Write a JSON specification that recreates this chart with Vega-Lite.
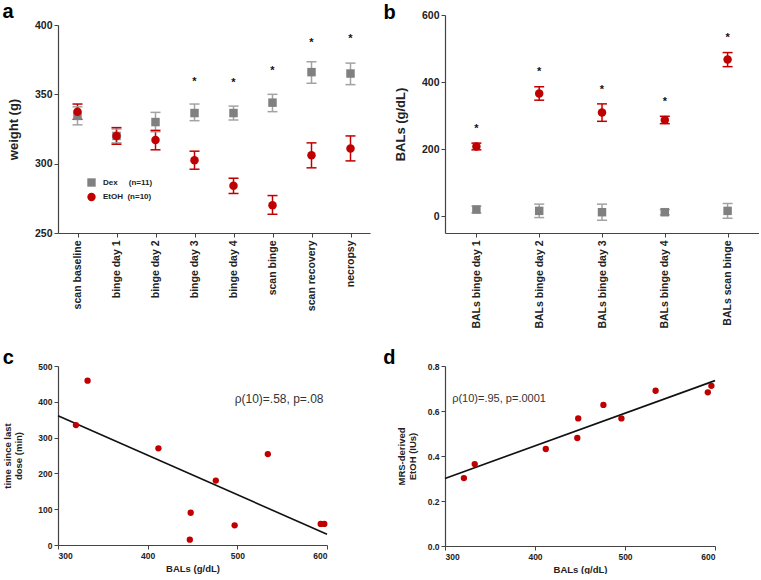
{
  "$schema": "https://vega.github.io/schema/vega-lite/v6.json",
  "background": "white",
  "padding": {"left": 2, "top": 2, "right": 0, "bottom": 0},
  "config": {
    "font": "Liberation Sans",
    "view": {"stroke": null},
    "axis": {"grid": false, "domainColor": "#444", "tickColor": "#444", "labelColor": "#222", "titleColor": "#222", "labelFontWeight": "bold", "titleFontWeight": "bold", "tickSize": 4, "labelPadding": 2, "domainWidth": 1.2, "tickWidth": 1},
    "title": {"fontSize": 20, "fontWeight": "bold", "anchor": "start", "frame": "bounds", "color": "#000"},
    "legend": {"padding": 0}
  },
  "datasets": {
    "weights": [
      {"time": "scan baseline", "group": "Dex", "mean": 334.5, "lo": 328, "hi": 341},
      {"time": "binge day 1", "group": "Dex", "mean": 320, "lo": 315, "hi": 325},
      {"time": "binge day 2", "group": "Dex", "mean": 330, "lo": 323, "hi": 337},
      {"time": "binge day 3", "group": "Dex", "mean": 336.5, "lo": 331, "hi": 343},
      {"time": "binge day 4", "group": "Dex", "mean": 336.5, "lo": 331.5, "hi": 341.5},
      {"time": "scan binge", "group": "Dex", "mean": 344, "lo": 337.5, "hi": 350},
      {"time": "scan recovery", "group": "Dex", "mean": 366, "lo": 358, "hi": 373.5},
      {"time": "necropsy", "group": "Dex", "mean": 365, "lo": 357, "hi": 372.5},
      {"time": "scan baseline", "group": "EtOH", "mean": 337.5, "lo": 332, "hi": 343},
      {"time": "binge day 1", "group": "EtOH", "mean": 320, "lo": 314, "hi": 326},
      {"time": "binge day 2", "group": "EtOH", "mean": 317, "lo": 310, "hi": 324},
      {"time": "binge day 3", "group": "EtOH", "mean": 302.5, "lo": 296, "hi": 309},
      {"time": "binge day 4", "group": "EtOH", "mean": 284, "lo": 278.5, "hi": 289.5},
      {"time": "scan binge", "group": "EtOH", "mean": 270, "lo": 263.5, "hi": 277},
      {"time": "scan recovery", "group": "EtOH", "mean": 306, "lo": 297, "hi": 315},
      {"time": "necropsy", "group": "EtOH", "mean": 311, "lo": 302, "hi": 320}
    ],
    "stars_a": [
      {"time": "binge day 3", "y": 361},
      {"time": "binge day 4", "y": 360.5},
      {"time": "scan binge", "y": 369},
      {"time": "scan recovery", "y": 389.5},
      {"time": "necropsy", "y": 392}
    ],
    "bals": [
      {"day": "BALs binge day 1", "group": "Dex", "mean": 20, "lo": 10, "hi": 30},
      {"day": "BALs binge day 2", "group": "Dex", "mean": 16, "lo": -4, "hi": 36},
      {"day": "BALs binge day 3", "group": "Dex", "mean": 12, "lo": -12, "hi": 36},
      {"day": "BALs binge day 4", "group": "Dex", "mean": 12, "lo": 4, "hi": 20},
      {"day": "BALs scan binge", "group": "Dex", "mean": 16, "lo": -6, "hi": 38},
      {"day": "BALs binge day 1", "group": "EtOH", "mean": 208, "lo": 198, "hi": 218},
      {"day": "BALs binge day 2", "group": "EtOH", "mean": 366, "lo": 346, "hi": 386},
      {"day": "BALs binge day 3", "group": "EtOH", "mean": 309, "lo": 283, "hi": 335},
      {"day": "BALs binge day 4", "group": "EtOH", "mean": 287, "lo": 276, "hi": 298},
      {"day": "BALs scan binge", "group": "EtOH", "mean": 467, "lo": 446, "hi": 488}
    ],
    "stars_b": [
      {"day": "BALs binge day 1", "y": 270},
      {"day": "BALs binge day 2", "y": 438},
      {"day": "BALs binge day 3", "y": 385},
      {"day": "BALs binge day 4", "y": 349},
      {"day": "BALs scan binge", "y": 541}
    ],
    "corr_time": [
      {"bal": 320, "t": 335},
      {"bal": 333, "t": 459},
      {"bal": 412, "t": 270},
      {"bal": 476, "t": 180},
      {"bal": 448, "t": 90},
      {"bal": 447, "t": 15},
      {"bal": 497, "t": 55},
      {"bal": 534, "t": 254},
      {"bal": 593, "t": 59},
      {"bal": 597, "t": 59}
    ],
    "fit_time": [
      {"bal": 300, "t": 361},
      {"bal": 600, "t": 30}
    ],
    "corr_mrs": [
      {"bal": 321, "v": 0.302},
      {"bal": 333, "v": 0.364},
      {"bal": 412, "v": 0.431},
      {"bal": 447, "v": 0.48},
      {"bal": 448, "v": 0.567},
      {"bal": 476, "v": 0.627},
      {"bal": 496, "v": 0.567},
      {"bal": 534, "v": 0.69},
      {"bal": 592, "v": 0.683},
      {"bal": 596, "v": 0.712}
    ],
    "fit_mrs": [
      {"bal": 300, "v": 0.30},
      {"bal": 600, "v": 0.735}
    ]
  },
  "spacing": 18,
  "vconcat": [
    {
      "spacing": 13,
      "hconcat": [
        {
          "title": {"text": "a", "offset": -7, "dx": -5},
          "width": 312,
          "height": 218,
          "encoding": {
            "x": {"field": "time", "type": "nominal", "sort": null,
              "scale": {"type": "point", "padding": 0.5, "domain": ["scan baseline", "binge day 1", "binge day 2", "binge day 3", "binge day 4", "scan binge", "scan recovery", "necropsy"]},
              "axis": {"title": null, "labelAngle": -90, "labelFontSize": 10.5, "labelPadding": 3}}
          },
          "layer": [
            {
              "data": {"name": "weights"},
              "mark": {"type": "rule", "strokeWidth": 1.5},
              "encoding": {
                "y": {"field": "lo", "type": "quantitative", "scale": {"domain": [250, 400], "nice": false, "zero": false, "range": [218, 10]},
                  "axis": {"values": [250, 300, 350, 400], "title": "weight (g)", "titleFontSize": 13, "labelFontSize": 10.5, "titlePadding": 14}},
                "y2": {"field": "hi"},
                "color": {"field": "group", "type": "nominal", "scale": {"range": ["#a3a3a3", "#c00000"]}, "legend": null}
              }
            },
            {
              "data": {"name": "weights"},
              "mark": {"type": "tick", "thickness": 1.5, "size": 10, "opacity": 1},
              "encoding": {
                "y": {"field": "lo", "type": "quantitative"},
                "color": {"field": "group", "type": "nominal", "legend": null}
              }
            },
            {
              "data": {"name": "weights"},
              "mark": {"type": "tick", "thickness": 1.5, "size": 10, "opacity": 1},
              "encoding": {
                "y": {"field": "hi", "type": "quantitative"},
                "color": {"field": "group", "type": "nominal", "legend": null}
              }
            },
            {
              "data": {"name": "weights"},
              "mark": {"type": "point", "filled": true, "size": 72, "opacity": 1},
              "encoding": {
                "y": {"field": "mean", "type": "quantitative"},
                "fill": {"field": "group", "type": "nominal", "scale": {"domain": ["Dex", "EtOH"], "range": ["#808080", "#c00000"]},
                  "legend": {"orient": "none", "legendX": 29, "legendY": 163, "title": null, "labelExpr": "datum.label == 'Dex' ? 'Dex\u00a0\u00a0\u00a0\u00a0\u00a0(n=11)' : 'EtOH\u00a0\u00a0(n=10)'", "symbolSize": 70, "labelFontSize": 8, "labelFontWeight": "bold", "rowPadding": 5.5, "labelOffset": 7, "labelColor": "#222", "symbolStrokeWidth": 0}},
                "shape": {"field": "group", "type": "nominal", "scale": {"domain": ["Dex", "EtOH"], "range": ["square", "circle"]},
                  "legend": {"orient": "none", "legendX": 29, "legendY": 163, "title": null, "labelExpr": "datum.label == 'Dex' ? 'Dex\u00a0\u00a0\u00a0\u00a0\u00a0(n=11)' : 'EtOH\u00a0\u00a0(n=10)'", "symbolSize": 70, "labelFontSize": 8, "labelFontWeight": "bold", "rowPadding": 5.5, "labelOffset": 7, "labelColor": "#222", "symbolStrokeWidth": 0}}
              }
            },
            {
              "data": {"name": "stars_a"},
              "mark": {"type": "text", "text": "*", "fontSize": 11, "fontWeight": "bold", "baseline": "middle", "dy": 3, "color": "#111"},
              "encoding": {"y": {"field": "y", "type": "quantitative"}}
            }
          ]
        },
        {
          "title": {"text": "b", "offset": -12.5, "dx": -11},
          "width": 314,
          "height": 218,
          "encoding": {
            "x": {"field": "day", "type": "nominal", "sort": null,
              "scale": {"type": "point", "padding": 0.5, "domain": ["BALs binge day 1", "BALs binge day 2", "BALs binge day 3", "BALs binge day 4", "BALs scan binge"]},
              "axis": {"title": null, "labelAngle": -90, "labelFontSize": 10.5, "labelPadding": 3}}
          },
          "layer": [
            {
              "mark": {"type": "rule", "strokeDash": [5, 2], "color": "#b0b0b0", "strokeWidth": 1.2},
              "encoding": {"y": {"datum": 0, "type": "quantitative"}}
            },
            {
              "data": {"name": "bals"},
              "mark": {"type": "rule", "strokeWidth": 1.5},
              "encoding": {
                "y": {"field": "lo", "type": "quantitative", "scale": {"domain": [-50, 600], "nice": false, "zero": false},
                  "axis": {"values": [0, 200, 400, 600], "title": "BALs (g/dL)", "titleFontSize": 13, "labelFontSize": 10.5, "titlePadding": 14}},
                "y2": {"field": "hi"},
                "color": {"field": "group", "type": "nominal", "legend": null}
              }
            },
            {
              "data": {"name": "bals"},
              "mark": {"type": "tick", "thickness": 1.5, "size": 10, "opacity": 1},
              "encoding": {
                "y": {"field": "lo", "type": "quantitative"},
                "color": {"field": "group", "type": "nominal", "legend": null}
              }
            },
            {
              "data": {"name": "bals"},
              "mark": {"type": "tick", "thickness": 1.5, "size": 10, "opacity": 1},
              "encoding": {
                "y": {"field": "hi", "type": "quantitative"},
                "color": {"field": "group", "type": "nominal", "legend": null}
              }
            },
            {
              "data": {"name": "bals"},
              "transform": [{"filter": "datum.group == 'Dex'"}],
              "mark": {"type": "point", "filled": true, "size": 72, "opacity": 1, "shape": "square", "color": "#808080"},
              "encoding": {"y": {"field": "mean", "type": "quantitative"}}
            },
            {
              "data": {"name": "bals"},
              "transform": [{"filter": "datum.group == 'EtOH'"}],
              "mark": {"type": "point", "filled": true, "size": 72, "opacity": 1, "shape": "circle", "color": "#c00000"},
              "encoding": {"y": {"field": "mean", "type": "quantitative"}}
            },
            {
              "data": {"name": "stars_b"},
              "mark": {"type": "text", "text": "*", "fontSize": 11, "fontWeight": "bold", "baseline": "middle", "dy": 3, "color": "#111"},
              "encoding": {"y": {"field": "y", "type": "quantitative"}}
            }
          ]
        }
      ]
    },
    {
      "spacing": 52,
      "hconcat": [
        {
          "title": {"text": "c", "offset": -5.5, "dx": 0},
          "width": 269,
          "height": 179,
          "layer": [
            {
              "data": {"name": "fit_time"},
              "mark": {"type": "line", "color": "#111", "strokeWidth": 1.6},
              "encoding": {
                "x": {"field": "bal", "type": "quantitative", "scale": {"domain": [300, 600], "nice": false, "zero": false},
                  "axis": {"values": [300, 400, 500, 600], "title": "BALs (g/dL)", "titleFontSize": 9.5, "labelFontSize": 8.5, "titlePadding": 4}},
                "y": {"field": "t", "type": "quantitative", "scale": {"domain": [0, 500], "nice": false},
                  "axis": {"tickCount": 5, "title": ["time since last", "dose (min)"], "titleFontSize": 9.5, "labelFontSize": 8.5, "titlePadding": 14, "titleLineHeight": 11, "labelOverlap": false, "labelBound": false, "labelFlush": false, "labelSeparation": 0}}
              }
            },
            {
              "data": {"name": "corr_time"},
              "mark": {"type": "point", "filled": true, "size": 40, "opacity": 1, "color": "#c00000"},
              "encoding": {
                "x": {"field": "bal", "type": "quantitative"},
                "y": {"field": "t", "type": "quantitative"}
              }
            },
            {
              "data": {"values": [{"bal": 497, "t": 408, "label": "ρ(10)=.58, p=.08"}]},
              "mark": {"type": "text", "align": "left", "baseline": "middle", "fontSize": 12, "color": "#333"},
              "encoding": {
                "x": {"field": "bal", "type": "quantitative"},
                "y": {"field": "t", "type": "quantitative"},
                "text": {"field": "label"}
              }
            }
          ]
        },
        {
          "title": {"text": "d", "offset": -5.5, "dx": -13},
          "width": 270,
          "height": 180,
          "layer": [
            {
              "data": {"name": "fit_mrs"},
              "mark": {"type": "line", "color": "#111", "strokeWidth": 1.6},
              "encoding": {
                "x": {"field": "bal", "type": "quantitative", "scale": {"domain": [300, 600], "nice": false, "zero": false},
                  "axis": {"values": [300, 400, 500, 600], "title": "BALs (g/dL)", "titleFontSize": 9.5, "labelFontSize": 8.5, "titlePadding": 4}},
                "y": {"field": "v", "type": "quantitative", "scale": {"domain": [0, 0.8], "nice": false},
                  "axis": {"values": [0, 0.2, 0.4, 0.6, 0.8], "format": ".1f", "title": ["MRS-derived", "EtOH (IUs)"], "titleFontSize": 9.5, "labelFontSize": 8.5, "titlePadding": 10, "titleLineHeight": 11}}
              }
            },
            {
              "data": {"name": "corr_mrs"},
              "mark": {"type": "point", "filled": true, "size": 40, "opacity": 1, "color": "#c00000"},
              "encoding": {
                "x": {"field": "bal", "type": "quantitative"},
                "y": {"field": "v", "type": "quantitative"}
              }
            },
            {
              "data": {"values": [{"bal": 308, "v": 0.653, "label": "ρ(10)=.95, p=.0001"}]},
              "mark": {"type": "text", "align": "left", "baseline": "middle", "fontSize": 11, "color": "#333"},
              "encoding": {
                "x": {"field": "bal", "type": "quantitative"},
                "y": {"field": "v", "type": "quantitative"},
                "text": {"field": "label"}
              }
            }
          ]
        }
      ]
    }
  ]
}
